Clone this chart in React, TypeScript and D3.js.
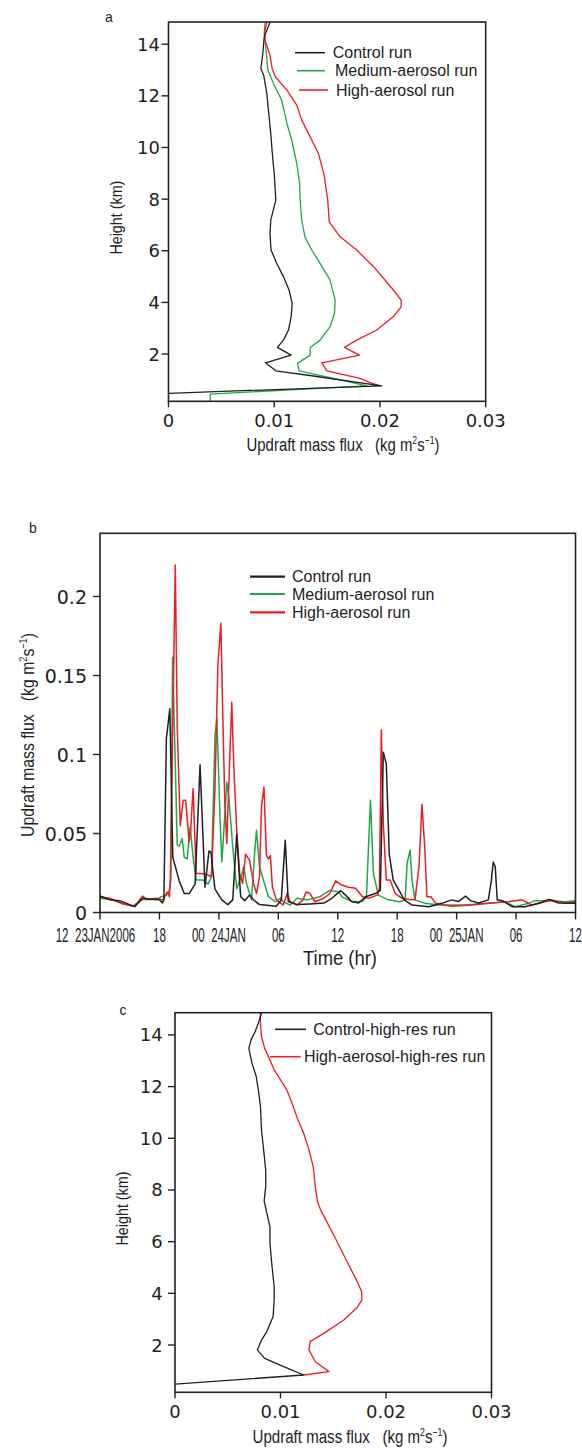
import React, { useLayoutEffect, useRef, useState } from 'react';
import * as d3 from 'd3';

// panel a profiles: [flux, height km]
const controlA = [[0.0096,14.85],[0.00905,14.28],[0.00892,13.64],[0.00873,13.06],[0.009,12.8],[0.0093,12.09],[0.00945,11.45],[0.00967,10.54],[0.00977,10.03],[0.0099,9.38],[0.01,9.0],[0.01015,7.96],[0.00967,7.19],[0.0096,6.67],[0.0097,6.03],[0.01024,5.51],[0.01087,5.0],[0.0114,4.48],[0.0117,3.96],[0.0116,3.45],[0.01135,2.93],[0.01087,2.54],[0.0103,2.26],[0.0116,1.96],[0.00917,1.66],[0.01015,1.35],[0.0137,1.15],[0.02017,0.77],[0,0.48]];
const mediumA = [[0.00914,14.85],[0.00905,14.41],[0.0092,13.9],[0.0094,12.99],[0.00993,12.48],[0.0107,11.83],[0.0112,10.93],[0.01166,10.28],[0.01213,9.38],[0.0124,8.6],[0.01245,7.96],[0.0126,7.19],[0.0129,6.54],[0.01355,6.03],[0.01434,5.51],[0.01528,4.86],[0.01576,4.09],[0.0157,3.57],[0.01528,3.06],[0.01434,2.54],[0.0134,2.25],[0.0134,1.96],[0.0122,1.64],[0.01235,1.35],[0.0156,1.06],[0.01875,0.77],[0.00394,0.45],[0.00394,0.17]];
const highA = [[0.0093,14.85],[0.0091,14.5],[0.00914,14.15],[0.0096,13.57],[0.0098,13.06],[0.0101,12.74],[0.0112,12.22],[0.01213,11.64],[0.0126,11.06],[0.0134,10.41],[0.01418,9.77],[0.01472,8.93],[0.01506,7.96],[0.0152,7.12],[0.01623,6.54],[0.0178,6.03],[0.01954,5.32],[0.02127,4.48],[0.022,4.09],[0.022,3.83],[0.02127,3.45],[0.0197,2.93],[0.0178,2.54],[0.01664,2.26],[0.01806,1.96],[0.0145,1.66],[0.01497,1.35],[0.01812,1.06],[0.01907,0.89],[0.02,0.77]];

// panel b time series: [hours since 12Z 23 Jan, flux]
const controlB = [[0,0.0104],[1,0.008],[2,0.0075],[3.5,0.0037],[4.3,0.009],[5,0.0085],[6,0.008],[6.3,0.006],[6.45,0.008],[6.7,0.11],[7.05,0.129],[7.35,0.035],[8,0.02],[8.5,0.012],[9,0.012],[9.6,0.018],[10.1,0.0935],[10.6,0.016],[11,0.039],[11.2,0.038],[11.6,0.015],[12.3,0.008],[12.9,0.005],[13.4,0.008],[13.8,0.0495],[14.2,0.01],[14.6,0.0075],[15.1,0.011],[15.5,0.008],[16.1,0.005],[17.8,0.004],[18.3,0.008],[18.7,0.0458],[19,0.007],[19.9,0.005],[21.2,0.0054],[22.6,0.006],[23.4,0.009],[24.3,0.0138],[24.8,0.011],[25.4,0.007],[26.1,0.006],[26.8,0.01],[27.8,0.012],[28.3,0.014],[28.6,0.1015],[28.9,0.094],[29.2,0.037],[29.6,0.0205],[30.2,0.014],[30.7,0.008],[31.5,0.0047],[33.2,0.0037],[34.5,0.0058],[35.5,0.008],[36.2,0.007],[36.9,0.0104],[37.4,0.0075],[38.2,0.006],[39.2,0.008],[39.5,0.02],[39.7,0.032],[39.9,0.029],[40.1,0.008],[40.6,0.0075],[41.6,0.0037],[42.9,0.0037],[44.3,0.0058],[45.3,0.0083],[46.3,0.006],[48,0.0058]];
const mediumB = [[0,0.009],[1,0.0083],[2.3,0.0058],[3.3,0.004],[4.3,0.0083],[5.7,0.0083],[6.2,0.01],[6.7,0.011],[7,0.014],[7.15,0.02],[7.33,0.1615],[7.6,0.094],[7.8,0.0426],[8,0.042],[8.3,0.0468],[8.5,0.035],[8.8,0.034],[9.1,0.054],[9.4,0.035],[9.7,0.0205],[10.4,0.0205],[10.9,0.018],[11.25,0.0226],[11.6,0.111],[11.8,0.123],[12.1,0.0626],[12.3,0.032],[12.4,0.0415],[12.8,0.0826],[13,0.073],[13.4,0.0415],[13.8,0.015],[14.3,0.0237],[14.5,0.029],[14.8,0.018],[15.3,0.008],[15.6,0.037],[15.8,0.052],[16.1,0.029],[16.5,0.0205],[17,0.01],[17.7,0.0068],[18.2,0.009],[18.5,0.0068],[19.2,0.0047],[19.9,0.009],[20.9,0.008],[22.2,0.01],[23.2,0.014],[24.1,0.013],[24.4,0.01],[25.4,0.007],[26.5,0.007],[26.9,0.01],[27.3,0.071],[27.6,0.0247],[28.1,0.011],[29.1,0.008],[30.2,0.0068],[30.8,0.008],[31,0.031],[31.3,0.0395],[31.5,0.0205],[31.8,0.008],[32.8,0.0058],[34.2,0.0047],[36.9,0.0047],[39.2,0.0058],[40.9,0.0068],[41.9,0.0037],[43.3,0.0058],[43.9,0.0075],[45.3,0.0075],[47,0.0068],[48,0.0075]];
const highB = [[0,0.01],[1,0.009],[2.3,0.0054],[3.5,0.004],[4.3,0.0104],[4.7,0.0083],[5.7,0.009],[6.35,0.008],[6.8,0.013],[7,0.01],[7.1,0.0216],[7.6,0.22],[7.8,0.117],[8.1,0.055],[8.4,0.071],[8.65,0.071],[9,0.0447],[9.15,0.052],[9.4,0.0784],[9.7,0.0247],[10.1,0.0247],[10.7,0.0243],[11.25,0.0226],[11.6,0.077],[11.9,0.157],[12.2,0.183],[12.4,0.1236],[12.6,0.069],[12.8,0.0437],[12.9,0.0626],[13.3,0.133],[13.5,0.094],[13.8,0.052],[14.1,0.0247],[14.4,0.0184],[14.7,0.037],[15.1,0.033],[15.5,0.0184],[15.8,0.012],[16.1,0.0226],[16.3,0.0668],[16.55,0.0794],[16.8,0.036],[17,0.034],[17.2,0.036],[17.4,0.0163],[17.8,0.008],[18.5,0.0047],[18.9,0.012],[19.2,0.0068],[19.9,0.0047],[20.5,0.008],[20.8,0.013],[21.2,0.012],[21.7,0.0068],[22.6,0.009],[23.2,0.012],[23.8,0.02],[24.4,0.0174],[25.1,0.016],[25.8,0.0153],[26.5,0.01],[27.1,0.009],[28,0.011],[28.2,0.015],[28.4,0.1156],[28.6,0.056],[28.9,0.0205],[29.3,0.0205],[29.8,0.012],[30.5,0.009],[31.2,0.0083],[31.8,0.008],[32.2,0.029],[32.5,0.0685],[32.8,0.0395],[33,0.01],[33.4,0.01],[33.9,0.0058],[35.5,0.004],[37.5,0.0047],[39.2,0.0058],[41.2,0.0068],[42.6,0.008],[43.6,0.0047],[44.9,0.0068],[45.6,0.008],[47,0.0058],[48,0.0068]];

// panel c profiles: [flux, height km]
const controlC = [[0.0082,14.86],[0.0079,14.45],[0.0076,14.13],[0.0072,13.8],[0.007,13.48],[0.0073,12.9],[0.0077,12.39],[0.0079,11.87],[0.0081,11.23],[0.0082,10.32],[0.0084,9.55],[0.0086,8.77],[0.0086,8.13],[0.00845,7.58],[0.0087,7.1],[0.009,6.58],[0.009,5.94],[0.0092,5.03],[0.0094,4.26],[0.0094,3.74],[0.0093,3.1],[0.0087,2.52],[0.0082,2.19],[0.0078,1.81],[0.0085,1.48],[0.0103,1.16],[0.0122,0.84],[0,0.49]];
const highC = [[0.0081,14.86],[0.0081,14.45],[0.0082,13.94],[0.0085,13.48],[0.009,13.03],[0.0094,12.65],[0.0098,12.39],[0.0106,11.87],[0.0111,11.35],[0.0116,10.77],[0.0122,10.19],[0.0127,9.55],[0.0131,8.9],[0.0133,8.13],[0.0135,7.55],[0.0138,7.23],[0.0152,6.13],[0.0163,5.23],[0.0172,4.52],[0.0177,4.06],[0.0177,3.74],[0.0172,3.42],[0.016,2.97],[0.0141,2.45],[0.0128,2.13],[0.0127,1.81],[0.0133,1.35],[0.0146,0.97],[0.0122,0.84]];

const heightTicks = [2, 4, 6, 8, 10, 12, 14];
const fluxTicks = [0, 0.01, 0.02, 0.03];
const fluxLabels = ['0', '0.01', '0.02', '0.03'];
const timeTicks = [0, 6, 12, 18, 24, 30, 36, 42, 48];
const timeLabels = ['12  23JAN2006', '18', '00  24JAN', '06', '12', '18', '00  25JAN', '06', '12'];
const bTicks = [0, 0.05, 0.1, 0.15, 0.2];
const bLabels = ['0', '0.05', '0.1', '0.15', '0.2'];

const BLACK = '#231f20';
const GREEN = '#1fa84a';
const RED = '#ee1c24';
const SANS = 'Liberation Sans, Arial, sans-serif';
const TICKF = 'DejaVu Sans, sans-serif';

const FitText = ({ x, y, width, rotate = 0, size, children }: any) => {
  const ref = useRef<SVGTextElement>(null);
  const [sx, setSx] = useState(1);
  useLayoutEffect(() => {
    if (ref.current) {
      const w = ref.current.getBBox().width;
      if (w > 0) setSx(width / w);
    }
  }, [width]);
  return (
    <g transform={`translate(${x},${y}) rotate(${rotate}) scale(${sx},1)`}>
      <text ref={ref} textAnchor="middle" fontSize={size} fontFamily={SANS} fill="#222" style={{ whiteSpace: 'pre' }}>{children}</text>
    </g>
  );
};

const unitTitle = (
  <>Updraft mass flux   (kg m<tspan dy={-7} fontSize={11}>2</tspan><tspan dy={7}>s</tspan><tspan dy={-7} fontSize={11}>−1</tspan><tspan dy={7}>)</tspan></>
);

const Profile = ({ left, right, top, bottom, labelGap, tickBase, titleY, titleX, titleW, ylabX, series, legend, letter }: any) => {
  const x = d3.scaleLinear().domain([0, 0.03]).range([left, right]);
  const y = d3.scaleLinear().domain([0.17, 14.86]).range([bottom, top]);
  const line = d3.line<number[]>().x(d => x(d[0])).y(d => y(d[1]));
  return (
    <g>
      {series.map((s: any, i: number) => (
        <path key={i} d={line(s.data) || ''} fill="none" stroke={s.color} strokeWidth={1.3} strokeLinejoin="round" />
      ))}
      <rect x={left} y={top} width={right - left} height={bottom - top} fill="none" stroke="#222" strokeWidth={1.6} />
      {heightTicks.map(t => (
        <g key={t}>
          <line x1={left - 7} x2={left} y1={y(t)} y2={y(t)} stroke="#222" strokeWidth={1.4} />
          <text x={left - labelGap} y={y(t) + 6.5} textAnchor="end" fontSize={18} fontFamily={TICKF} fill="#222">{t}</text>
        </g>
      ))}
      {fluxTicks.map((t, i) => (
        <g key={t}>
          <line x1={x(t)} x2={x(t)} y1={bottom} y2={bottom + 6} stroke="#222" strokeWidth={1.4} />
          <text x={x(t)} y={tickBase} textAnchor="middle" fontSize={18} fontFamily={TICKF} fill="#222">{fluxLabels[i]}</text>
        </g>
      ))}
      <FitText x={titleX} y={titleY} width={titleW} size={19}>{unitTitle}</FitText>
      <FitText x={ylabX} y={(top + bottom) / 2 + 6} width={74} rotate={-90} size={17}>Height (km)</FitText>
      {legend.map((l: any, i: number) => (
        <g key={i}>
          <line x1={l.x1} x2={l.x2} y1={l.y} y2={l.y} stroke={l.color} strokeWidth={1.6} />
          <text x={l.tx} y={l.y + 5.5} fontSize={16} fontFamily={SANS} fill="#222">{l.text}</text>
        </g>
      ))}
      <text x={letter.x} y={letter.y} textAnchor="middle" fontSize={14} fontFamily={SANS} fill="#222">{letter.t}</text>
    </g>
  );
};

const TimePanel = () => {
  const left = 100, right = 575.5, top = 533.3, bottom = 912.5;
  const x = d3.scaleLinear().domain([0, 48]).range([left, right]);
  const y = d3.scaleLinear().domain([0, 0.24]).range([bottom, top]);
  const line = d3.line<number[]>().x(d => x(d[0])).y(d => y(d[1]));
  const series = [
    { data: mediumB, color: GREEN },
    { data: highB, color: RED },
    { data: controlB, color: BLACK },
  ];
  const legend = [
    { y: 576.7, color: BLACK, text: 'Control run' },
    { y: 594, color: GREEN, text: 'Medium-aerosol run' },
    { y: 612.3, color: RED, text: 'High-aerosol run' },
  ];
  return (
    <g>
      {series.map((s, i) => (
        <path key={i} d={line(s.data) || ''} fill="none" stroke={s.color} strokeWidth={1.5} strokeLinejoin="round" />
      ))}
      <rect x={left} y={top} width={right - left} height={bottom - top} fill="none" stroke="#222" strokeWidth={1.6} />
      {bTicks.map((t, i) => (
        <g key={t}>
          <line x1={left - 7} x2={left} y1={y(t)} y2={y(t)} stroke="#222" strokeWidth={1.4} />
          <text x={87} y={y(t) + 7} textAnchor="end" fontSize={19} fontFamily={TICKF} fill="#222">{bLabels[i]}</text>
        </g>
      ))}
      {timeTicks.map((t, i) => (
        <g key={t}>
          <line x1={x(t)} x2={x(t)} y1={bottom} y2={bottom + 7} stroke="#222" strokeWidth={1.4} />
          <g transform={`translate(${x(t) - (i === 0 ? 4.5 : 0)},941.5) scale(0.55,1)`}>
            <text textAnchor="middle" fontSize={21} fontFamily={SANS} fill="#222" style={{ whiteSpace: 'pre' }}>{timeLabels[i]}</text>
          </g>
        </g>
      ))}
      <FitText x={340} y={965} width={74} size={20}>Time (hr)</FitText>
      <FitText x={34} y={735} width={204} rotate={-90} size={19}>{unitTitle}</FitText>
      {legend.map((l, i) => (
        <g key={i}>
          <line x1={250} x2={285} y1={l.y} y2={l.y} stroke={l.color} strokeWidth={2.2} />
          <text x={292} y={l.y + 5.5} fontSize={16} fontFamily={SANS} fill="#222">{l.text}</text>
        </g>
      ))}
      <text x={33} y={533} textAnchor="middle" fontSize={14} fontFamily={SANS} fill="#222">b</text>
    </g>
  );
};

export default function App() {
  return (
    <svg width={582} height={1448} style={{ position: 'absolute', left: 0, top: 0, background: '#fff' }}>
      <Profile
        left={168.5} right={485.7} top={22} bottom={401.3}
        labelGap={8.5} tickBase={427} titleX={343} titleY={451} titleW={193} ylabX={122}
        series={[{ data: mediumA, color: GREEN }, { data: highA, color: RED }, { data: controlA, color: BLACK }]}
        legend={[
          { x1: 295, x2: 325, y: 52.7, tx: 332.7, color: BLACK, text: 'Control run' },
          { x1: 297, x2: 325, y: 70.7, tx: 335, color: GREEN, text: 'Medium-aerosol run' },
          { x1: 299, x2: 328, y: 90, tx: 336, color: RED, text: 'High-aerosol run' },
        ]}
        letter={{ x: 109, y: 22, t: 'a' }}
      />
      <TimePanel />
      <Profile
        left={175} right={491.5} top={1012.7} bottom={1392.3}
        labelGap={12.3} tickBase={1418} titleX={350} titleY={1443} titleW={195} ylabX={128}
        series={[{ data: highC, color: RED }, { data: controlC, color: BLACK }]}
        legend={[
          { x1: 275, x2: 306, y: 1029.3, tx: 313.3, color: BLACK, text: 'Control-high-res run' },
          { x1: 270, x2: 300.7, y: 1056.7, tx: 304, color: RED, text: 'High-aerosol-high-res run' },
        ]}
        letter={{ x: 123, y: 1015, t: 'c' }}
      />
    </svg>
  );
}
